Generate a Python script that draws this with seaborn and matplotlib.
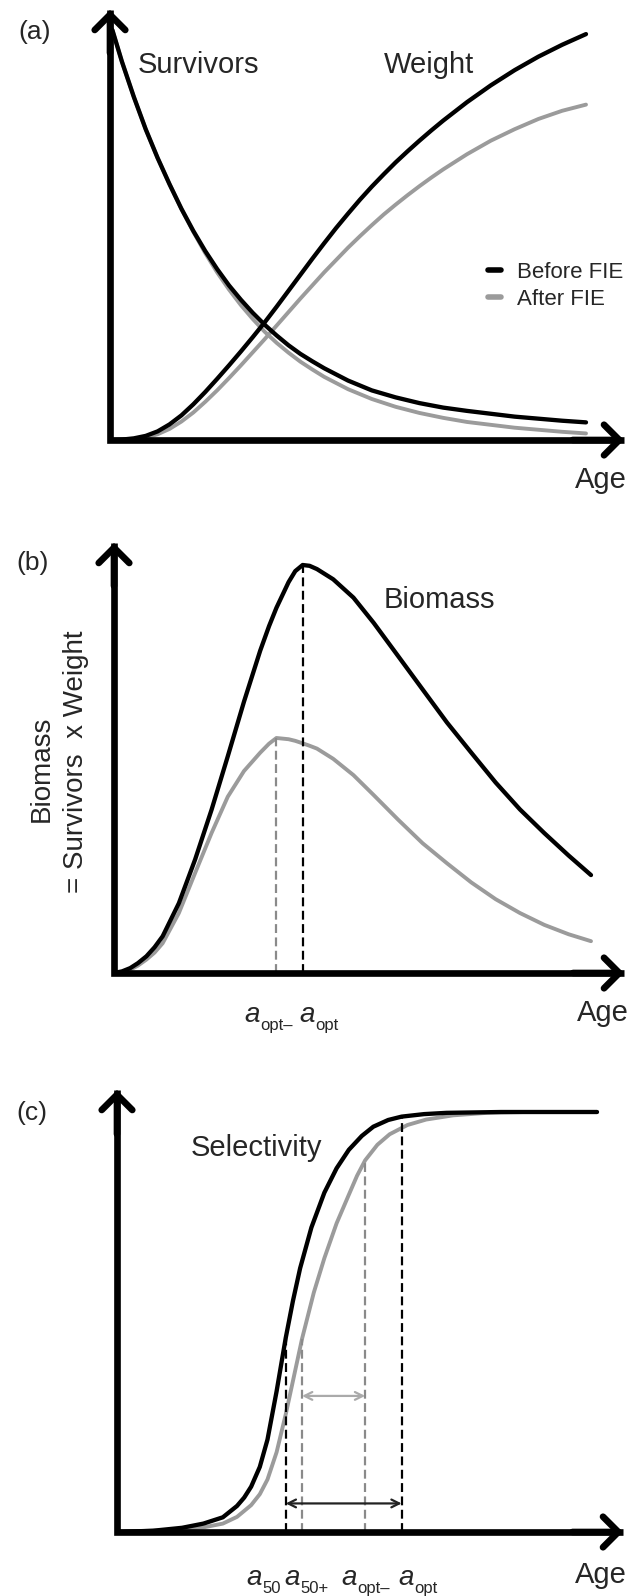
import numpy as np
import pandas as pd
import seaborn as sns
import matplotlib.pyplot as plt
from matplotlib.lines import Line2D

# ---- panel (a): survivors and weight (age 0-20, relative units)
surv_age = [0.1, 0.5, 1.0, 1.5, 2.0, 2.5, 3.0, 3.5, 4.0, 4.5, 5.0, 5.5, 6.0, 6.5, 7.0, 7.5, 8.0, 8.5, 9.0,
            10, 11, 12, 13, 14, 15, 16, 17, 18, 19, 20]
surv_before = [1.0, 0.923, 0.837, 0.758, 0.688, 0.624, 0.564, 0.510, 0.461, 0.417, 0.377, 0.342, 0.310, 0.281,
               0.255, 0.231, 0.210, 0.192, 0.175, 0.145, 0.121, 0.104, 0.090, 0.079, 0.071, 0.064, 0.057,
               0.052, 0.047, 0.043]
surv_after = [1.0, 0.923, 0.837, 0.758, 0.688, 0.624, 0.564, 0.508, 0.456, 0.409, 0.367, 0.329, 0.295, 0.264,
              0.237, 0.213, 0.191, 0.172, 0.154, 0.124, 0.100, 0.081, 0.066, 0.054, 0.044, 0.037, 0.030,
              0.025, 0.020, 0.016]

wt_age = [0, 0.5, 1.0, 1.5, 2.0, 2.5, 3.0, 3.5, 4.0, 4.5, 5.0, 5.5, 6.0, 6.5, 7.0, 7.5, 8.0, 8.5, 9.0, 9.5,
          10.0, 10.5, 11.0, 11.5, 12.0, 12.5, 13.0, 13.5, 14, 15, 16, 17, 18, 19, 20]
wt_before = [0, 0.001, 0.004, 0.010, 0.021, 0.038, 0.060, 0.087, 0.117, 0.149, 0.182, 0.216, 0.251, 0.287,
             0.325, 0.364, 0.403, 0.442, 0.480, 0.517, 0.552, 0.586, 0.618, 0.648, 0.677, 0.704, 0.730,
             0.755, 0.779, 0.824, 0.865, 0.902, 0.935, 0.964, 0.990]
wt_after = [0, 0.0, 0.002, 0.006, 0.014, 0.027, 0.045, 0.067, 0.093, 0.121, 0.151, 0.182, 0.214, 0.246,
            0.279, 0.312, 0.345, 0.377, 0.409, 0.439, 0.469, 0.497, 0.524, 0.550, 0.574, 0.597, 0.619,
            0.640, 0.660, 0.697, 0.730, 0.758, 0.783, 0.803, 0.818]

# ---- panel (b): biomass
bio_age = [0, 0.34, 0.68, 1.0, 1.36, 1.7, 2.04, 2.72, 3.40, 4.09, 4.77, 5.45, 6.13, 6.5, 6.81, 7.32, 7.6, 7.91,
           8.2, 8.51, 9.19, 10.04, 10.89, 11.91, 12.94, 13.96, 14.98, 16.0, 17.02, 18.04, 19.06, 20]
bio_before = [0, 0.004, 0.012, 0.024, 0.041, 0.063, 0.090, 0.171, 0.278, 0.400, 0.531, 0.665, 0.790, 0.850,
              0.895, 0.958, 0.985, 1.0, 0.998, 0.990, 0.965, 0.920, 0.858, 0.777, 0.695, 0.614, 0.540,
              0.467, 0.401, 0.343, 0.288, 0.240]
bio_after = [0, 0.003, 0.008, 0.018, 0.033, 0.050, 0.073, 0.147, 0.245, 0.343, 0.432, 0.495, 0.540, 0.562,
             0.576, 0.573, 0.569, 0.563, 0.557, 0.550, 0.525, 0.485, 0.436, 0.376, 0.318, 0.269, 0.222,
             0.181, 0.147, 0.118, 0.095, 0.078]
a_opt_b, a_opt_minus_b = 7.91, 6.81

# ---- panel (c): selectivity
sel_age_before = [0, 1.5, 2.71, 3.6, 4.41, 5.0, 5.3, 5.59, 5.95, 6.27, 6.65, 7.03, 7.33, 7.63, 8.1, 8.64, 9.15,
                  9.66, 10.2, 10.68, 11.3, 11.86, 12.8, 13.73, 16, 20]
sel_before = [0, 0.003, 0.010, 0.020, 0.035, 0.062, 0.082, 0.108, 0.155, 0.220, 0.335, 0.462, 0.550, 0.628,
              0.725, 0.808, 0.866, 0.910, 0.943, 0.965, 0.981, 0.989, 0.995, 0.998, 1.0, 1.0]
sel_age_after = [0, 2.71, 3.6, 4.41, 5.0, 5.59, 5.95, 6.27, 6.65, 7.03, 7.37, 7.71, 8.2, 8.64, 9.15, 9.66, 10.0,
                 10.34, 10.85, 11.36, 12.1, 12.88, 14, 15.42, 17, 20]
sel_after = [0, 0.006, 0.011, 0.020, 0.036, 0.064, 0.090, 0.125, 0.190, 0.280, 0.370, 0.460, 0.570, 0.652,
             0.735, 0.803, 0.848, 0.885, 0.922, 0.947, 0.969, 0.982, 0.992, 0.998, 1.0, 1.0]
a50, a50_plus, a_opt_minus, a_opt = 7.03, 7.71, 10.34, 11.86

W, H = 628, 1596
BLACK = '#000000'
GREY = '#9b9b9b'
DASH_GREY = '#8a8a8a'

sns.set_theme(style='white')
plt.rcParams['font.family'] = ['Liberation Sans', 'DejaVu Sans']

fig = plt.figure(figsize=(W / 100, H / 100), dpi=100)


def fig_text(x, y, s, **kw):
    return fig.text(x / W, 1 - y / H, s, **kw)


def make_axes(x0, y0, x1, y1, ux, uy):
    # origin at pixel (x0, y0), arrow tips at x1 / y1, ux / uy pixels per data unit
    ax = fig.add_axes([x0 / W, 1 - y0 / H, (x1 - x0) / W, (y0 - y1) / H])
    xt, yt = (x1 - x0) / ux, (y0 - y1) / uy
    ax.set_xlim(0, xt)
    ax.set_ylim(0, yt)
    ax.axis('off')
    ax.plot([0, 0, xt], [yt, 0, 0], color=BLACK, lw=4.8, clip_on=False,
            solid_joinstyle='miter', solid_capstyle='butt', zorder=5)
    head = dict(arrowstyle='->,head_length=0.55,head_width=0.55', lw=4.8, color=BLACK,
                shrinkA=0, shrinkB=0, mutation_scale=20, joinstyle='miter')
    ax.annotate('', xy=(xt, 0), xytext=(xt * 0.9, 0), arrowprops=head, annotation_clip=False)
    ax.annotate('', xy=(0, yt), xytext=(0, yt * 0.9), arrowprops=head, annotation_clip=False)
    return ax


def curve(ax, x, y, color, lw):
    sns.lineplot(x=x, y=y, ax=ax, color=color, lw=lw, solid_joinstyle='round', solid_capstyle='round')


def dashed(ax, x, top, color):
    ax.plot([x, x], [0, top], color=color, lw=1.6, ls=(0, (4, 2)))


def sub_label(x, y, sub):
    fig_text(x, y, 'a', fontsize=20, style='italic', ha='right', va='baseline')
    fig_text(x + 0.5, y + 8, sub, fontsize=12, ha='left', va='baseline')


# ---------------- (a)
ax = make_axes(110, 440, 624, 10, 23.8, 410)
curve(ax, surv_age, surv_after, GREY, 2.8)
curve(ax, wt_age, wt_after, GREY, 2.8)
curve(ax, surv_age, surv_before, BLACK, 3.1)
curve(ax, wt_age, wt_before, BLACK, 3.1)
fig_text(35, 32, '(a)', fontsize=19, ha='center', va='center')
fig_text(138, 65, 'Survivors', fontsize=21, ha='left', va='center')
fig_text(384, 65, 'Weight', fontsize=21, ha='left', va='center')
fig_text(627, 480, 'Age', fontsize=21, ha='right', va='center')
handles = [Line2D([], [], color=BLACK, lw=4), Line2D([], [], color=GREY, lw=4)]
ax.legend(handles, ['Before FIE', 'After FIE'], loc='upper left',
          bbox_to_anchor=(488 / W, 1 - 262 / H), bbox_transform=fig.transFigure,
          frameon=False, fontsize=16, handlelength=0.6, handletextpad=0.7,
          labelspacing=0.25, borderpad=0, borderaxespad=0)

# ---------------- (b)
ax = make_axes(114, 973, 624, 543, 23.85, 408)
curve(ax, bio_age, bio_after, GREY, 2.8)
curve(ax, bio_age, bio_before, BLACK, 3.1)
dashed(ax, a_opt_minus_b, max(bio_after), DASH_GREY)
dashed(ax, a_opt_b, max(bio_before), BLACK)
fig_text(33, 563, '(b)', fontsize=19, ha='center', va='center')
fig_text(384, 600, 'Biomass', fontsize=21, ha='left', va='center')
fig_text(42, 769, 'Biomass', fontsize=20, rotation=90, ha='center', va='center')
fig_text(76, 762, '= Survivors  x Weight', fontsize=20, rotation=90, ha='center', va='center')
sub_label(260, 1022, 'opt\u2013')
sub_label(315, 1022, 'opt')
fig_text(629, 1013, 'Age', fontsize=21, ha='right', va='center')

# ---------------- (c)
ax = make_axes(117, 1532, 623, 1090, 24.0, 420)
curve(ax, sel_age_after, sel_after, GREY, 2.8)
curve(ax, sel_age_before, sel_before, BLACK, 3.1)
sel_b = dict(zip(sel_age_before, sel_before))
sel_a = dict(zip(sel_age_after, sel_after))
dashed(ax, a50, sel_b[a50], BLACK)
dashed(ax, a_opt, sel_b[a_opt], BLACK)
dashed(ax, a50_plus, sel_a[a50_plus], DASH_GREY)
dashed(ax, a_opt_minus, sel_a[a_opt_minus], DASH_GREY)
ax.annotate('', xy=(a_opt, 0.068), xytext=(a50, 0.068),
            arrowprops=dict(arrowstyle='<->', lw=1.6, color='#222222', shrinkA=0, shrinkB=0, mutation_scale=14))
ax.annotate('', xy=(a_opt_minus, 0.324), xytext=(a50_plus, 0.324),
            arrowprops=dict(arrowstyle='<->', lw=1.6, color='#aaaaaa', shrinkA=0, shrinkB=0, mutation_scale=14))
fig_text(32, 1113, '(c)', fontsize=19, ha='center', va='center')
fig_text(191, 1148, 'Selectivity', fontsize=21, ha='left', va='center')
sub_label(262, 1585, '50')
sub_label(300, 1585, '50+')
sub_label(357, 1585, 'opt\u2013')
sub_label(414, 1585, 'opt')
fig_text(627, 1575, 'Age', fontsize=21, ha='right', va='center')

fig.savefig('out.png', dpi=100)
